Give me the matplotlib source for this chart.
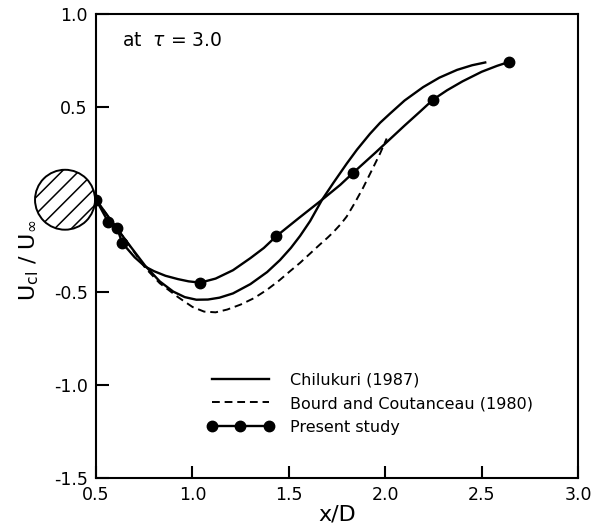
import matplotlib
matplotlib.use('Agg')
import matplotlib.pyplot as plt
from matplotlib.patches import Ellipse

# present study (markers)
pts_x = [0.5, 0.562, 0.609, 0.635, 1.04, 1.434, 1.833, 2.248, 2.642]
pts_y = [0.0, -0.118, -0.151, -0.232, -0.447, -0.197, 0.145, 0.54, 0.743]

# present study line
pres_x = [0.5, 0.562, 0.609, 0.635, 0.70, 0.754, 0.80, 0.86, 0.925, 0.98, 1.04, 1.12, 1.21, 1.30, 1.37,
          1.434, 1.55, 1.672, 1.766, 1.833, 1.95, 2.1, 2.18, 2.248, 2.32, 2.40, 2.50, 2.58, 2.642]
pres_y = [0.0, -0.118, -0.151, -0.232, -0.31, -0.36, -0.385, -0.41, -0.428, -0.44, -0.447, -0.425, -0.38, -0.315, -0.26,
          -0.197, -0.10, 0.0, 0.08, 0.145, 0.255, 0.40, 0.475, 0.54, 0.59, 0.638, 0.69, 0.722, 0.743]

# Chilukuri (1987)
chil_x = [0.5, 0.58, 0.666, 0.754, 0.83, 0.90, 0.96, 1.02, 1.08, 1.14, 1.21, 1.30, 1.387, 1.454, 1.51,
          1.558, 1.61, 1.672, 1.73, 1.80, 1.853, 1.92, 1.973, 2.025, 2.1, 2.196, 2.28, 2.372, 2.45, 2.518]
chil_y = [0.0, -0.115, -0.235, -0.355, -0.44, -0.495, -0.525, -0.539, -0.538, -0.528, -0.505, -0.455, -0.39, -0.325, -0.26,
          -0.195, -0.115, 0.0, 0.09, 0.195, 0.27, 0.355, 0.415, 0.465, 0.535, 0.607, 0.658, 0.70, 0.725, 0.74]

# Bourd and Coutanceau (1980)
bourd_x = [0.5, 0.58, 0.666, 0.754, 0.83, 0.925, 1.0, 1.06, 1.12, 1.18, 1.25, 1.32, 1.387, 1.45, 1.506,
           1.558, 1.61, 1.66, 1.70, 1.73, 1.77, 1.80, 1.84, 1.885, 1.94, 1.973, 2.007]
bourd_y = [0.0, -0.115, -0.235, -0.366, -0.45, -0.525, -0.578, -0.603, -0.607, -0.592, -0.565, -0.53, -0.485, -0.435, -0.385,
           -0.34, -0.29, -0.242, -0.205, -0.175, -0.13, -0.09, -0.02, 0.065, 0.18, 0.25, 0.33]

xticks = [0.5, 1.0, 1.5, 2.0, 2.5, 3.0]
yticks = [-1.5, -1.0, -0.5, 0.5, 1.0]

plt.rcParams['hatch.linewidth'] = 1.1
fig = plt.figure(figsize=(5.93, 5.27), dpi=100)
ax = fig.add_axes([0.162, 0.093, 0.813, 0.880])

ax.plot(chil_x, chil_y, '-', color='black', lw=1.7)
ax.plot(bourd_x, bourd_y, color='black', lw=1.4, linestyle=(0, (4, 2.5)))
ax.plot(pres_x, pres_y, '-', color='black', lw=1.7)
ax.plot(pts_x, pts_y, 'o', color='black', ms=7.5)

# cylinder
cyl = Ellipse((0.339, 0.0), 0.311, 0.323, facecolor='white', edgecolor='black',
              lw=1.4, hatch='//', clip_on=False, zorder=5)
ax.add_patch(cyl)

# legend handles
h1, = ax.plot([], [], '-', color='black', lw=1.7)
h2, = ax.plot([], [], color='black', lw=1.4, linestyle=(0, (4, 2.5)))
h3, = ax.plot([], [], 'o-', color='black', lw=1.7, ms=7.5)
ax.legend([h1, h2, h3], ['Chilukuri (1987)', 'Bourd and Coutanceau (1980)', 'Present study'],
          loc='upper left', bbox_to_anchor=(0.2, 0.259), frameon=False, fontsize=11.5,
          handlelength=4.2, numpoints=3, labelspacing=0.55, handletextpad=1.0)

ax.text(0.054, 0.944, r'at  $\tau$ = 3.0', transform=ax.transAxes, fontsize=13.5,
        va='center', ha='left')

ax.set_xlim(0.5, 3.0)
ax.set_ylim(-1.5, 1.0)
ax.set_xticks(xticks)
ax.set_yticks(yticks)
ax.set_xticklabels(['0.5', '1.0', '1.5', '2.0', '2.5', '3.0'], fontsize=12.5)
ax.set_yticklabels(['-1.5', '-1.0', '-0.5', '0.5', '1.0'], fontsize=12.5)
ax.tick_params(direction='in', length=9, width=1.5, top=False, right=False, pad=6)
for s in ax.spines.values():
    s.set_linewidth(1.5)

ax.set_xlabel('x/D', fontsize=16, labelpad=0)
ax.set_ylabel(r'U$_{\mathregular{cl}}$ / U$_{\mathregular{\infty}}$', fontsize=16)
ax.yaxis.set_label_coords(-0.115, 0.47)

fig.savefig('out.png', dpi=100)
